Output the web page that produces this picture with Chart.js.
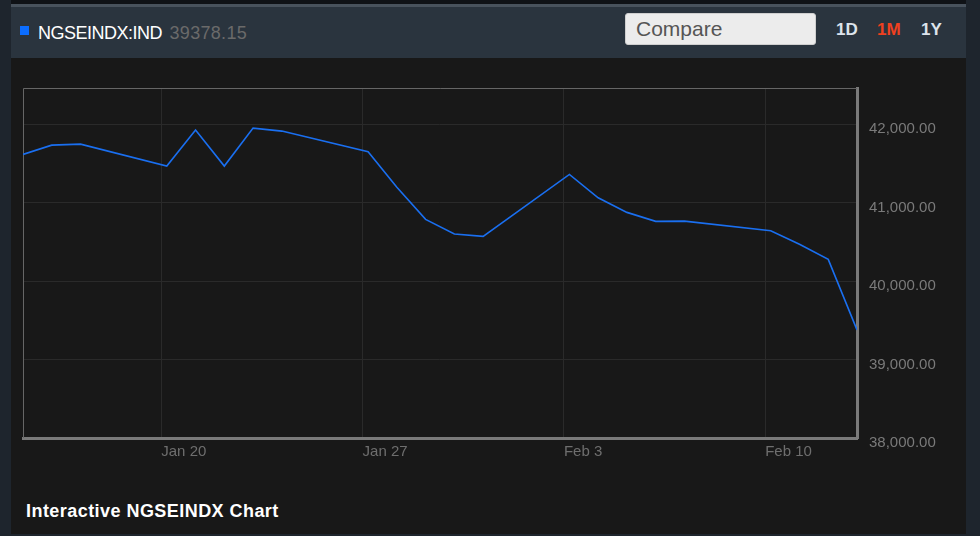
<!DOCTYPE html>
<html>
<head>
<meta charset="utf-8">
<script src="https://cdn.jsdelivr.net/npm/chart.js@4.4.1/dist/chart.umd.min.js"></script>
<style>
  html, body { margin: 0; padding: 0; }
  body { width: 980px; height: 536px; overflow: hidden; background: #1e252d; position: relative; font-family: Arial, "Liberation Sans", sans-serif; }
  .abs { position: absolute; }
  #topdark { left: 11px; top: 0; width: 955px; height: 4px; background: #0f1216; }
  #topline { left: 11px; top: 4px; width: 955px; height: 3px; background: #48525c; }
  #hdr { left: 11px; top: 7px; width: 955px; height: 51px; background: #2a343e; }
  #panel { left: 11px; top: 58px; width: 955px; height: 476px; background: #181818; }
  #sq { left: 20px; top: 26px; width: 9px; height: 9px; background: #0b6dff; }
  #title { left: 38px; top: 24px; font-size: 18px; line-height: 18px; color: #ffffff; white-space: nowrap; letter-spacing: -0.5px; }
  #title .px { color: #6a6a6a; margin-left: 3px; letter-spacing: 0.3px; }
  #compare { left: 625px; top: 13px; width: 191px; height: 32px; box-sizing: border-box; background: #ececec; border: 1px solid #cfcfcf; border-radius: 3px; font-size: 21px; line-height: 30px; color: #555; padding-left: 10px; }
  .rng { top: 20.5px; font-size: 17px; line-height: 17px; font-weight: bold; color: #dde4ec; }
  #r1m { color: #f0401f; }
  #foot { left: 26px; top: 501.5px; font-size: 18px; line-height: 18px; font-weight: bold; color: #ffffff; white-space: nowrap; letter-spacing: 0.45px; }
  #c { position: absolute; left: 0; top: 0; }
</style>
</head>
<body>
<div class="abs" id="topdark"></div>
<div class="abs" id="topline"></div>
<div class="abs" id="hdr"></div>
<div class="abs" id="panel"></div>
<div class="abs" id="sq"></div>
<div class="abs" id="title">NGSEINDX:IND <span class="px">39378.15</span></div>
<div class="abs" id="compare">Compare</div>
<div class="abs rng" style="left:836px">1D</div>
<div class="abs rng" id="r1m" style="left:877px">1M</div>
<div class="abs rng" style="left:921px">1Y</div>
<div class="abs" id="foot">Interactive NGSEINDX Chart</div>
<canvas id="c" width="980" height="536"></canvas>
<script>
// ---- data ----
const dates = [
  '2025-01-15','2025-01-16','2025-01-17',
  '2025-01-20','2025-01-21','2025-01-22','2025-01-23','2025-01-24',
  '2025-01-27','2025-01-28','2025-01-29','2025-01-30','2025-01-31',
  '2025-02-03','2025-02-04','2025-02-05','2025-02-06','2025-02-07',
  '2025-02-10','2025-02-11','2025-02-12','2025-02-13'
];
const closes = [
  41614, 41732, 41745,
  41465, 41924, 41465, 41949, 41911,
  41647, 41194, 40786, 40599, 40569,
  41359, 41061, 40875, 40761, 40764,
  40641, 40468, 40276, 39378.15
];
const xTickDates = ['2025-01-20','2025-01-27','2025-02-03','2025-02-10'];
const xTickLabels = ['Jan 20','Jan 27','Feb 3','Feb 10'];
const yTicks = [38000, 39000, 40000, 41000, 42000];
const yMin = 38000;
const yMax = 42460;
const sessionHour = 4.6; // time of day of each daily close

const dayNum = s => Date.parse(s + 'T00:00:00Z') / 86400000;
const points = dates.map((d, i) => ({ x: dayNum(d) + sessionHour / 24, y: closes[i] }));

const framePlugin = {
  id: 'frame',
  beforeDatasetsDraw(chart) {
    const { ctx, chartArea: a } = chart;
    ctx.save();
    ctx.strokeStyle = '#666666';
    ctx.lineWidth = 1;
    ctx.beginPath();
    ctx.moveTo(a.left + 0.5, a.bottom);
    ctx.lineTo(a.left + 0.5, a.top + 0.5);
    ctx.lineTo(a.right, a.top + 0.5);
    ctx.stroke();
    ctx.restore();
  }
};

new Chart(document.getElementById('c'), {
  type: 'line',
  data: {
    datasets: [{
      data: points,
      borderColor: '#1a6ff0',
      borderWidth: 1.6,
      pointRadius: 0,
      pointHoverRadius: 0,
      tension: 0,
      fill: false
    }]
  },
  options: {
    responsive: false,
    animation: false,
    events: [],
    layout: { padding: { left: 23, top: 88, right: 23, bottom: 58 } },
    plugins: { legend: { display: false }, tooltip: { enabled: false } },
    scales: {
      x: {
        type: 'linear',
        min: points[0].x,
        max: points[points.length - 1].x,
        afterBuildTicks: s => { s.ticks = xTickDates.map(d => ({ value: dayNum(d) })); },
        afterFit: s => { s.height = 40; },
        grid: { color: '#2a2a2a', lineWidth: 1, drawTicks: false },
        border: { color: '#7a7a7a', width: 3 },
        ticks: {
          autoSkip: false, maxRotation: 0, align: 'start', padding: 5,
          color: '#6e6e6e', font: { family: 'Arial, "Liberation Sans"', size: 15 },
          callback: (v, i) => xTickLabels[i]
        }
      },
      y: {
        type: 'linear',
        position: 'right',
        min: yMin,
        max: yMax,
        afterBuildTicks: s => { s.ticks = yTicks.map(v => ({ value: v })); },
        afterFit: s => { s.width = 100; },
        grid: { color: '#2a2a2a', lineWidth: 1, drawTicks: false },
        border: { color: '#7a7a7a', width: 3 },
        ticks: {
          padding: 12, labelOffset: 5,
          color: '#7a7a7a', font: { family: 'Arial, "Liberation Sans"', size: 15 },
          callback: v => Number(v).toLocaleString('en-US', { minimumFractionDigits: 2, maximumFractionDigits: 2 })
        }
      }
    }
  },
  plugins: [framePlugin]
});
</script>
</body>
</html>
